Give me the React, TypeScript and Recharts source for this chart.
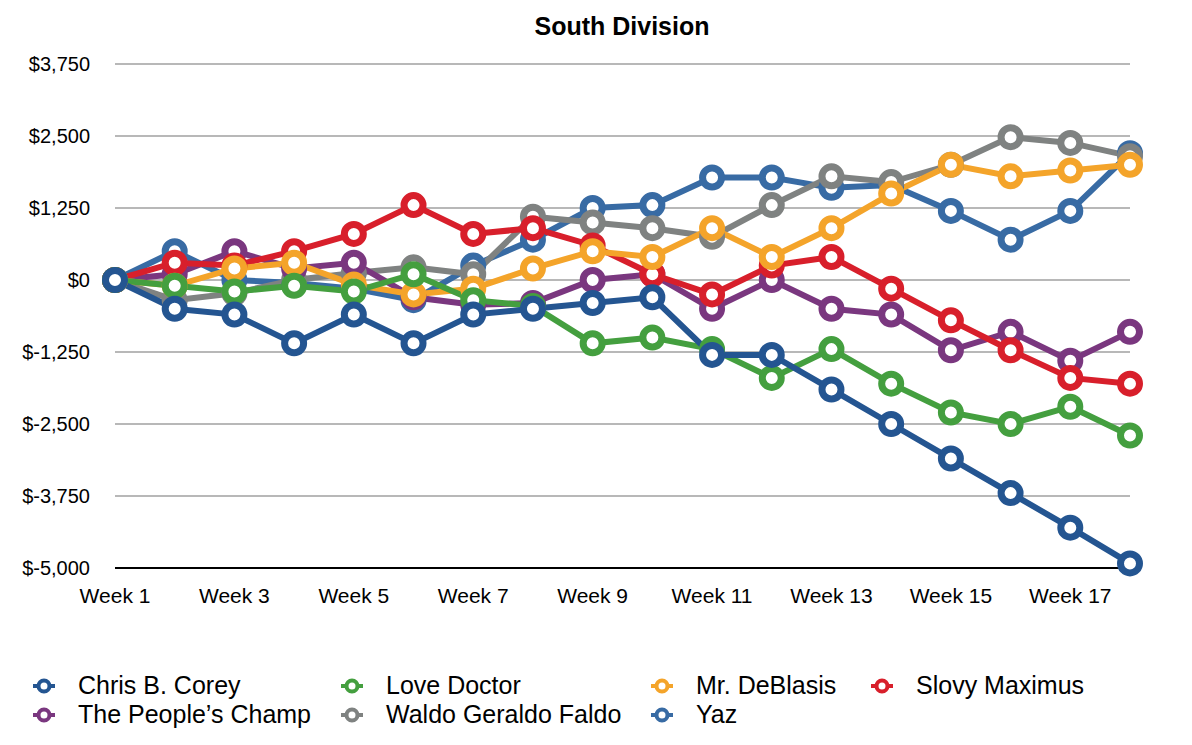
import { LineChart, Line, XAxis, YAxis, CartesianGrid } from 'recharts';

const weeks = ['Week 1', 'Week 2', 'Week 3', 'Week 4', 'Week 5', 'Week 6', 'Week 7', 'Week 8', 'Week 9', 'Week 10', 'Week 11', 'Week 12', 'Week 13', 'Week 14', 'Week 15', 'Week 16', 'Week 17', 'Week 18'];

const chrisBCorey = [0, -500, -600, -1100, -600, -1100, -600, -500, -400, -300, -1300, -1300, -1900, -2500, -3100, -3700, -4300, -4920];
const loveDoctor = [0, -100, -200, -100, -200, 100, -350, -450, -1100, -1000, -1200, -1700, -1200, -1800, -2300, -2500, -2200, -2700];
const mrDeBlasis = [0, -100, 200, 300, -80, -250, -150, 200, 500, 400, 900, 400, 900, 1500, 2000, 1800, 1900, 2000];
const slovyMaximus = [0, 300, 250, 500, 800, 1300, 800, 900, 600, 100, -250, 250, 400, -150, -700, -1220, -1700, -1800];
const peoplesChamp = [0, 100, 500, 200, 300, -300, -430, -400, 0, 100, -500, 0, -500, -600, -1220, -900, -1400, -900];
const waldo = [0, -350, -230, 0, 120, 220, 100, 1100, 1000, 900, 750, 1300, 1800, 1700, 2000, 2480, 2380, 2150];
const yaz = [0, 500, 0, -50, -150, -350, 250, 700, 1250, 1300, 1780, 1780, 1600, 1650, 1200, 700, 1200, 2200];

const yTicks = [-5000, -3750, -2500, -1250, 0, 1250, 2500, 3750];

const series = [
  { key: 'chris', name: 'Chris B. Corey', color: '#245591', values: chrisBCorey },
  { key: 'love', name: 'Love Doctor', color: '#449f3f', values: loveDoctor },
  { key: 'deblasis', name: 'Mr. DeBlasis', color: '#f4a42a', values: mrDeBlasis },
  { key: 'slovy', name: 'Slovy Maximus', color: '#d81f2b', values: slovyMaximus },
  { key: 'champ', name: 'The People\u2019s Champ', color: '#7a377f', values: peoplesChamp },
  { key: 'waldo', name: 'Waldo Geraldo Faldo', color: '#7f8281', values: waldo },
  { key: 'yaz', name: 'Yaz', color: '#386ba4', values: yaz },
];

const data = weeks.map((w, i) => {
  const row: Record<string, string | number> = { week: w };
  series.forEach((s) => { row[s.key] = s.values[i]; });
  return row;
});

const fmt = (v: number) => '$' + v.toLocaleString('en-US');

const font = '"Liberation Sans", Arial, Helvetica, sans-serif';

function Marker({ color }: { color: string }) {
  return (
    <svg width={24} height={18} style={{ display: 'block' }}>
      <line x1={1} y1={9} x2={23} y2={9} stroke={color} strokeWidth={4} />
      <circle cx={12} cy={9} r={5.5} fill="#fff" stroke={color} strokeWidth={4} />
    </svg>
  );
}

export default function App() {
  // left edge of each legend column
  const lefts = [30, 338, 648, 868];
  return (
    <div style={{ position: 'absolute', left: 0, top: 0, width: 1192, height: 745, background: '#fff', fontFamily: font }}>
      <div style={{ position: 'absolute', top: 12, left: 0, width: 1244, textAlign: 'center', fontWeight: 'bold', fontSize: 25, color: '#000' }}>
        South Division
      </div>
      <LineChart width={1192} height={640} data={data} margin={{ top: 64, right: 62, bottom: 32, left: 15 }}>
        <CartesianGrid vertical={false} stroke="#b8b8b8" strokeWidth={2} />
        <XAxis
          dataKey="week"
          interval={1}
          tickLine={false}
          tickSize={0}
          tickMargin={20}
          axisLine={{ stroke: '#000', strokeWidth: 2 }}
          tick={{ fill: '#000', fontSize: 21, fontFamily: font }}
          height={40}
        />
        <YAxis
          domain={[-5000, 3750]}
          ticks={yTicks}
          tickFormatter={fmt}
          axisLine={false}
          tickLine={false}
          tickSize={0}
          tickMargin={25}
          width={100}
          tick={{ fill: '#000', fontSize: 20, fontFamily: font }}
        />
        {/* drawn in reverse so Chris B. Corey ends up on top */}
        {[...series].reverse().map((s) => (
          <Line
            key={s.key}
            dataKey={s.key}
            name={s.name}
            type="linear"
            stroke={s.color}
            strokeWidth={6}
            dot={{ r: 9.5, fill: '#fff', stroke: s.color, strokeWidth: 7 }}
            isAnimationActive={false}
          />
        ))}
      </LineChart>
      {series.map((s, i) => (
        <div
          key={s.key}
          style={{
            position: 'absolute',
            left: lefts[i % 4] + 2,
            top: i < 4 ? 671 : 700,
            display: 'flex',
            alignItems: 'center',
            fontSize: 25,
            color: '#000',
            whiteSpace: 'nowrap',
          }}
        >
          <Marker color={s.color} />
          <span style={{ marginLeft: 22 }}>{s.name}</span>
        </div>
      ))}
    </div>
  );
}
